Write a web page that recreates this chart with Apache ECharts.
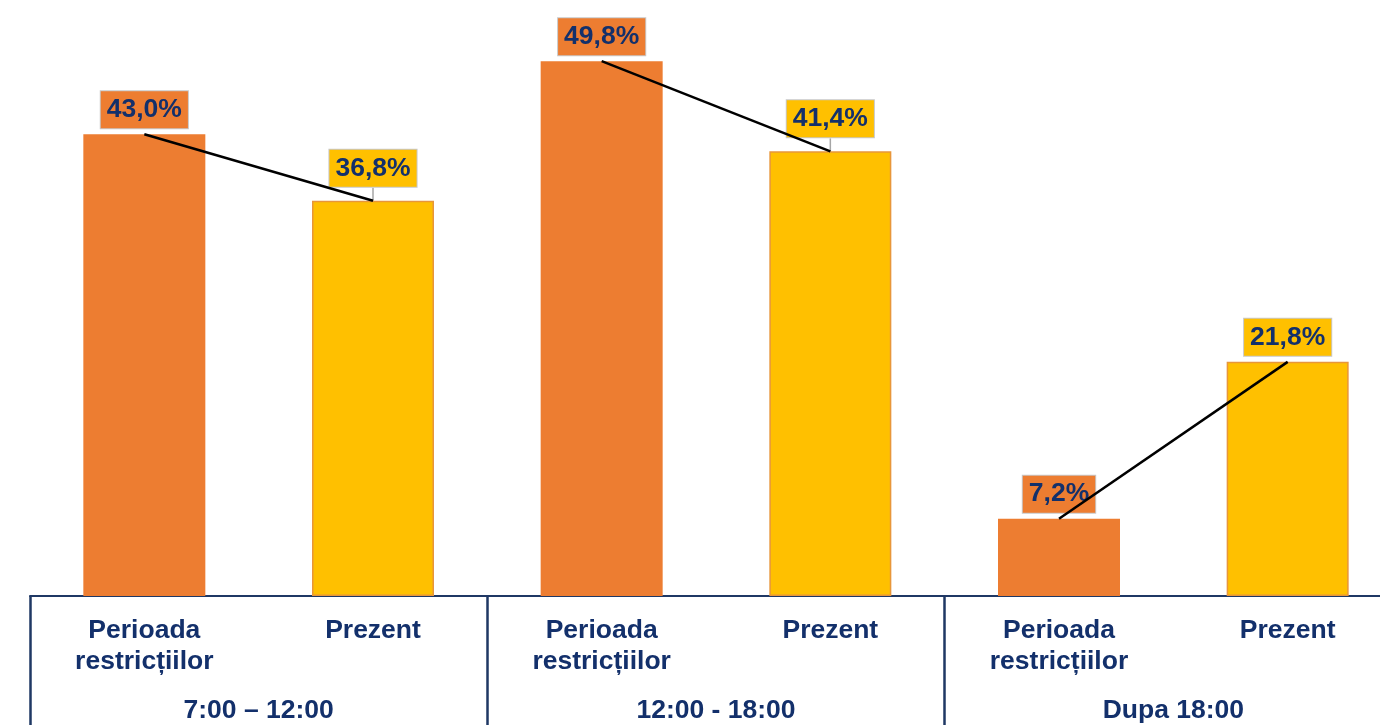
<!DOCTYPE html>
<html>
<head>
<meta charset="utf-8">
<script src="https://cdn.jsdelivr.net/npm/echarts@6/dist/echarts.min.js"></script>
<style>html,body{margin:0;padding:0;background:#fff}#c{width:1380px;height:725px}</style>
</head>
<body>
<div id="c"></div>
<script>
const categories = ["Perioada\nrestricțiilor", "Prezent", "Perioada\nrestricțiilor", "Prezent", "Perioada\nrestricțiilor", "Prezent"];
const groups = ["7:00 – 12:00", "12:00 - 18:00", "Dupa 18:00"];
const values = [43.0, 36.8, 49.8, 41.4, 7.2, 21.8];
const periodKind = ["restr", "prezent", "restr", "prezent", "restr", "prezent"];
const raisedLabels = [1, 3];

const NAVY = '#13306B';
const ORANGE = '#ED7D31';
const YELLOW = '#FFC000';
const FONT = '"Liberation Sans", Arial, sans-serif';
const fmt = v => v.toFixed(1).replace('.', ',') + '%';

const barData = values.map((v, i) => {
  const isR = periodKind[i] === 'restr';
  return {
    value: v,
    itemStyle: isR ? { color: ORANGE } : { color: YELLOW, borderColor: '#E8963A', borderWidth: 1.5 },
    label: { backgroundColor: isR ? ORANGE : YELLOW },
    labelLine: { show: raisedLabels.includes(i) }
  };
});

const lineSeries = groups.map((g, gi) => {
  const d = values.map((v, i) => (Math.floor(i / 2) === gi ? v : '-'));
  return {
    type: 'line', name: g, data: d, z: 5, symbol: 'none', silent: true,
    lineStyle: { color: '#000', width: 2.5 }, animation: false
  };
});

const chart = echarts.init(document.getElementById('c'));
chart.setOption({
  animation: false,
  grid: { left: 30, width: 1372, top: 59, bottom: 129, containLabel: false, outerBoundsMode: 'none' },
  xAxis: [
    {
      type: 'category', data: categories, position: 'bottom',
      axisLine: { show: true, lineStyle: { color: '#1F3864', width: 2 } },
      axisTick: { show: false },
      axisLabel: {
        interval: 0, margin: 19, color: NAVY, fontFamily: FONT, fontWeight: 'bold',
        fontSize: 26.5, lineHeight: 31
      }
    },
    {
      type: 'category', data: groups, position: 'bottom', offset: 0,
      axisLine: { show: false },
      axisTick: { show: true, interval: 0, length: 132, lineStyle: { color: '#1F3864', width: 2.5 } },
      axisLabel: {
        interval: 0, margin: 99, color: NAVY, fontFamily: FONT, fontWeight: 'bold',
        fontSize: 26.5, lineHeight: 31
      }
    }
  ],
  yAxis: { type: 'value', min: 0, max: 50, show: false, splitLine: { show: false } },
  series: [
    {
      type: 'bar', data: barData, barWidth: 122, xAxisIndex: 0, z: 2,
      label: {
        show: true, position: 'top', distance: 6,
        formatter: p => fmt(p.value),
        color: NAVY, fontFamily: FONT, fontWeight: 'bold', fontSize: 26.5,
        lineHeight: 27, padding: [5, 6, 5, 6], borderColor: '#C8C8C8', borderWidth: 1
      },
      labelLayout: p => raisedLabels.includes(p.dataIndex) ? { dy: -8 } : {},
      labelLine: { show: true, lineStyle: { color: '#A6A6A6', width: 1.5 } }
    },
    ...lineSeries
  ]
});
</script>
</body>
</html>
